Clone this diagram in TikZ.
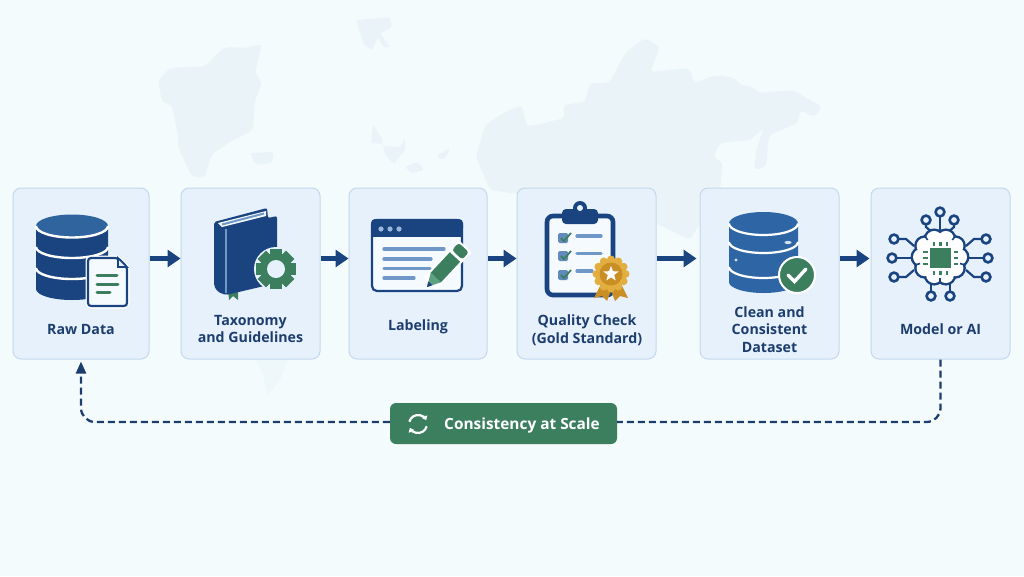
\documentclass[tikz,border=0pt]{standalone}
\usepackage{fontspec}
\setmainfont{Open Sans}
\usetikzlibrary{arrows.meta}
\definecolor{pagebg}{HTML}{F3FBFC}
\definecolor{mapgray}{HTML}{EAF4F8}
\definecolor{cardfill}{HTML}{E6F1FC}
\definecolor{cardline}{HTML}{C3D8EC}
\definecolor{navy}{HTML}{1A4480}
\definecolor{textnavy}{HTML}{1C3D6E}
\definecolor{capblue}{HTML}{2F649F}
\definecolor{cleanblue}{HTML}{2E66A5}
\definecolor{softblue}{HTML}{6F97C8}
\definecolor{leaf}{HTML}{3C7F5F}
\definecolor{leaflight}{HTML}{5FA283}
\definecolor{gold}{HTML}{E3AE40}
\definecolor{golddark}{HTML}{C98F25}
\definecolor{paper}{HTML}{F4FAFD}
\tikzset{
  boxcard/.style={draw=cardline, fill=cardfill, line width=1pt, rounded corners=8pt, minimum height=171pt, inner sep=0pt},
  cardtext/.style={text=textnavy, font=\fontsize{14.2}{17.6}\selectfont\bfseries, align=center, inner sep=0pt},
  flowarrow/.style={draw=navy, line width=4.4pt, -{Triangle[length=13pt,width=17pt]}},
  loopline/.style={draw=textnavy, line width=2.3pt, dash pattern=on 7pt off 4pt, rounded corners=14pt},
  softline/.style={softblue, line width=3.2pt, line cap=round},
  greenline/.style={leaf, line width=3pt, line cap=round},
  ringnode/.style={draw=navy, fill=cardfill, line width=2.6pt},
  wire/.style={draw=navy, line width=2.2pt}
}
\begin{document}
\begin{tikzpicture}[x=1pt,y=-1pt]
  \useasboundingbox (0,0) rectangle (1024,576);
  \fill[pagebg] (0,0) rectangle (1024,576);

  % Map
  \fill[mapgray, rounded corners=4pt] (262,44) -- (245,48) -- (225,47) -- (213,58) -- (206,66) -- (170,68) -- (158,80) -- (162,102) -- (172,105) -- (178,135) -- (178,147) -- (192,177) -- (205,177) -- (211,155) -- (228,143) -- (253,130) -- (255,100) -- (262,83) -- (255,73) -- cycle;
  \fill[mapgray, rounded corners=3pt] (250,153) -- (274,152) -- (272,163) -- (256,165) -- cycle;
  \fill[mapgray, rounded corners=2pt] (356,20) -- (390,17) -- (392,27) -- (380,33) -- (390,47) -- (383,47) -- (378,37) -- (372,50) -- (364,45) -- cycle;
  \fill[mapgray, rounded corners=2pt] (373,125) -- (383,140) -- (382,146) -- (400,147) -- (405,138) -- (405,150) -- (394,164) -- (385,155) -- (383,144) -- (371,143) -- cycle;
  \fill[mapgray, rounded corners=2pt] (405,167) -- (418,162) -- (424,170) -- (412,173) -- cycle;
  \fill[mapgray, rounded corners=2pt] (437,155) -- (450,148) -- (447,156) -- (441,160) -- cycle;
  \fill[mapgray, rounded corners=4pt] (476,157) -- (485,125) -- (505,112) -- (522,105) -- (527,127) -- (565,118) -- (563,105) -- (585,102) -- (590,83) -- (609,83) -- (626,52) -- (645,38) -- (660,47) -- (650,72) -- (689,68) -- (694,83) -- (716,75) -- (735,78) -- (740,85) -- (754,87) -- (757,93) -- (793,90) -- (822,107) -- (815,117) -- (800,110) -- (798,123) -- (769,135) -- (766,167) -- (754,170) -- (757,147) -- (764,128) -- (750,140) -- (720,143) -- (713,157) -- (723,163) -- (720,190) -- (690,240) -- (660,225) -- (560,200) -- (490,190) -- cycle;
  \fill[mapgray, opacity=0.5] (250,350) -- (292,350) -- (280,380) -- (268,396) -- (262,372) -- cycle;

  % Cards
  \node[boxcard, minimum width=136pt] (raw) at (81,273.5) {};
  \node[boxcard, minimum width=139pt] (taxonomy) at (250.5,273.5) {};
  \node[boxcard, minimum width=138pt] (labeling) at (418,273.5) {};
  \node[boxcard, minimum width=139pt] (quality) at (586.5,273.5) {};
  \node[boxcard, minimum width=139pt] (clean) at (769.5,273.5) {};
  \node[boxcard, minimum width=139pt] (model) at (940.5,273.5) {};

  % Labels
  \node[cardtext] (raw-text) at (81,329) {Raw Data};
  \node[cardtext] (taxonomy-text) at (250.5,329) {Taxonomy\\and Guidelines};
  \node[cardtext] (labeling-text) at (418,326.5) {Labeling};
  \node[cardtext] (quality-text) at (587,330.5) {Quality Check\\(Gold Standard)};
  \node[cardtext] (clean-text) at (769.5,329.5) {Clean and\\Consistent\\Dataset};
  \node[cardtext] (model-text) at (940.5,329) {Model or AI};

  % Arrows
  \draw[flowarrow] ([yshift=15pt]raw.east) -- ([yshift=15pt]taxonomy.west);
  \draw[flowarrow] ([yshift=15pt]taxonomy.east) -- ([yshift=15pt]labeling.west);
  \draw[flowarrow] ([yshift=15pt]labeling.east) -- ([yshift=15pt]quality.west);
  \draw[flowarrow, shorten >=3pt] ([yshift=15pt]quality.east) -- ([yshift=15pt]clean.west);
  \draw[flowarrow, shorten >=1pt] ([yshift=15pt]clean.east) -- ([yshift=15pt]model.west);

  % Pill
  \node[fill=leaf, rounded corners=6pt, minimum width=227pt, minimum height=41pt, inner sep=0pt] (pill) at (503.5,423.5) {};
  \node[text=white, font=\fontsize{15.4}{18}\selectfont\bfseries, inner sep=0pt] (pill-text) at (522,425) {Consistency at Scale};
  \draw[white, line width=2.2pt, -{Triangle[length=4pt,width=6pt]}] (418,424) ++(195:9) arc (195:335:9);
  \draw[white, line width=2.2pt, -{Triangle[length=4pt,width=6pt]}] (418,424) ++(15:9) arc (15:155:9);

  % Feedback loop
  \draw[loopline] (model.south) |- ([yshift=1.5pt]pill.east);
  \draw[loopline, -{Triangle[length=12pt,width=10pt]}, shorten >=2pt] ([yshift=1.5pt]pill.west) -| (raw.south);

  % Raw Data icon
  \fill[navy] (36,226) -- (36,289) arc (180:0:36 and 11) -- (108,226) -- cycle;
  \draw[white, line width=2.4pt] (36,247) arc (180:0:36 and 11);
  \draw[white, line width=2.4pt] (36,268) arc (180:0:36 and 11);
  \fill[capblue] (72,226) ellipse (36 and 11.5);
  \draw[white, line width=2.4pt] (36,226) arc (180:0:36 and 11.5);
  \fill[white] (98,271) circle (1.6);
  \fill[white] (101.5,270) circle (1.6);
  \draw[white, line width=5pt, rounded corners=3pt] (88,258) -- (118,258) -- (127,267) -- (127,306) -- (88,306) -- cycle;
  \draw[navy, fill=paper, line width=2.2pt, rounded corners=3pt] (88,258) -- (118,258) -- (127,267) -- (127,306) -- (88,306) -- cycle;
  \draw[navy, fill=cardfill, line width=1.6pt] (118,258) -- (118,267) -- (127,267) -- cycle;
  \draw[greenline] (97,275) -- (117,275);
  \draw[greenline] (97,284) -- (118,284);
  \draw[greenline] (97,292) -- (110,292);

  % Taxonomy icon
  \fill[leaf] (228,288) -- (238,288) -- (238,300) -- (233,296) -- (229,300) -- cycle;
  \fill[navy, rounded corners=2pt] (214,222) -- (267,208) -- (268,218) -- (277,216) -- (277,283) -- (226,295) -- (218,292) -- (214,286) -- cycle;
  \fill[paper] (218,223) -- (266,211) -- (266,216) -- (222,227) -- cycle;
  \draw[softblue, line width=2pt] (222,224.5) -- (264,213.5);
  \draw[softblue, line width=1.6pt] (226,229) -- (226,293);
  \fill[cardfill] (276,269) circle (22);
  \foreach \a in {0,45,...,315}
    \fill[leaf, rotate around={\a:(276,269)}] (270,249) rectangle (282,258);
  \fill[leaf] (276,269) circle (16);
  \fill[cardfill] (276,269) circle (9);

  % Labeling icon
  \draw[navy, fill=paper, line width=2.2pt, rounded corners=5pt] (372,220) rectangle (462,291);
  \fill[navy, rounded corners=4pt] (371,219) rectangle (463,232);
  \fill[navy] (371,228) rectangle (463,237);
  \foreach \x in {381,390,399}
    \fill[softblue!70!white] (\x,229) circle (2.6);
  \draw[softline] (384,249) -- (444,249);
  \draw[softline] (384,259) -- (431,259);
  \draw[softline] (384,268.5) -- (430,268.5);
  \draw[softline] (384,278) -- (414,278);
  \begin{scope}[shift={(427,287)}, rotate=47]
    \fill[white, rounded corners=2pt] (4,-9) rectangle (56,9);
    \fill[leaflight] (0,0) -- (13,-7) -- (13,7) -- cycle;
    \fill[navy] (0,0) -- (5,-2.8) -- (5,2.8) -- cycle;
    \fill[leaf] (13,-7) rectangle (41,7);
    \fill[leaf, rounded corners=3pt] (44,-7) rectangle (54,7);
  \end{scope}

  % Quality Check icon
  \draw[navy, fill=paper, line width=4.6pt, rounded corners=6pt] (547,216) rectangle (613,295);
  \fill[navy, rounded corners=4pt] (562,209) rectangle (598,224);
  \fill[navy] (580,208) circle (7);
  \fill[cardfill] (580,208) circle (3);
  \foreach \y in {238,256,275} {
    \fill[softblue!85!navy, rounded corners=1.5pt] (558,\y-5) rectangle (568,\y+5);
    \draw[leaf, line width=1.8pt] (561,\y) -- (564,\y+3) -- (571,\y-5);
  }
  \draw[softline] (577,236) -- (601,236);
  \draw[softline] (577,253.5) -- (601,253.5);
  \draw[softline] (577,271) -- (592,271);
  \fill[golddark] (601,284) -- (594,298) -- (602,296) -- (607,301) -- (612,288) -- cycle;
  \fill[golddark] (621,284) -- (628,298) -- (620,296) -- (615,301) -- (610,288) -- cycle;
  \foreach \a in {0,30,...,330}
    \fill[gold] (611,274) +(\a:14.5) circle (4);
  \fill[gold] (611,274) circle (15);
  \fill[golddark] (611,274) circle (11.5);
  \fill[white] (611,266) -- (613,271.2) -- (618.6,271.5) -- (614.2,275) -- (615.7,280.5) -- (611,277.4) -- (606.3,280.5) -- (607.8,275) -- (603.4,271.5) -- (609,271.2) -- cycle;

  % Clean Dataset icon
  \fill[cleanblue] (729,223.5) -- (729,282) arc (180:0:34.5 and 11) -- (798,223.5) -- cycle;
  \draw[white, line width=2.2pt] (729,242) arc (180:0:34.5 and 11);
  \draw[white, line width=2.2pt] (729,267) arc (180:0:34.5 and 11);
  \fill[cleanblue] (763.5,223.5) ellipse (34.5 and 11.5);
  \draw[white, line width=2.2pt] (729,223.5) arc (180:0:34.5 and 11.5);
  \fill[white, opacity=0.8] (788,242.5) ellipse (3.5 and 1.6);
  \fill[white, opacity=0.8] (736,260) circle (1.6);
  \draw[white, fill=leaf, line width=2pt] (797,275) circle (18);
  \draw[white, line width=3.4pt, line cap=round] (788,275) -- (794.5,281.5) -- (806,269);

  % Model icon
  \draw[wire] (940,216) -- (940,232);
  \draw[wire] (926,224) -- (926,227) -- (934,234);
  \draw[wire] (954,224) -- (954,227) -- (946,234);
  \draw[wire] (898,239) -- (906,239) -- (914,246);
  \draw[wire] (896,258) -- (914,258);
  \draw[wire] (898,277) -- (906,277) -- (914,270);
  \draw[wire] (982,239) -- (974,239) -- (966,246);
  \draw[wire] (984,258) -- (966,258);
  \draw[wire] (982,277) -- (974,277) -- (966,270);
  \draw[wire] (931,292) -- (931,282);
  \draw[wire] (950,292) -- (950,282);
  \foreach \a in {0,36,...,324}
    \fill[navy] (940,257) +(\a:19) circle (10.5);
  \foreach \a in {0,36,...,324}
    \fill[white] (940,257) +(\a:19) circle (8);
  \fill[white] (940,257) circle (20);
  \foreach \a in {18,90,162,234,306}
    \draw[wire, line width=1.6pt] (940,257) +(\a:27) -- +(\a:21);
  \foreach \x/\y in {940/212,926/220,954/220,894/239,892/258,894/277,986/239,988/258,986/277,931/296,950/296}
    \draw[ringnode] (\x,\y) circle (4.4);
  \fill[leaf] (930,248) rectangle (951,268);
  \foreach \x in {934,940.5,947} {
    \fill[leaf] (\x-1.4,241.5) rectangle (\x+1.4,245.5);
    \fill[leaf] (\x-1.4,271) rectangle (\x+1.4,275);
  }
  \foreach \y in {252,258,264} {
    \fill[leaf] (923,\y-1.3) rectangle (927.5,\y+1.3);
    \fill[leaf] (953.5,\y-1.3) rectangle (958,\y+1.3);
  }
\end{tikzpicture}
\end{document}
